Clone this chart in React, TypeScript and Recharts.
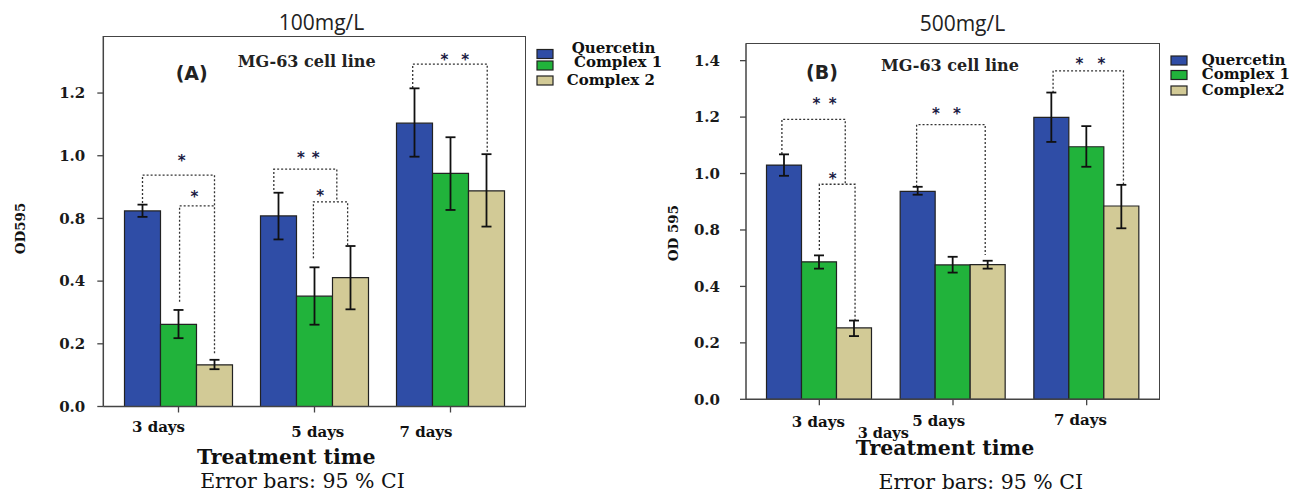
import React from 'react'
import { BarChart, Bar, XAxis, YAxis, ErrorBar, Rectangle } from 'recharts'

const days = ['3 days', '5 days', '7 days']
const legendA = ['Quercetin', 'Complex 1', 'Complex 2']
const legendB = ['Quercetin', 'Complex 1', 'Complex2']
const colors = ['#2f4da6', '#21b33b', '#d2ca96']

// panel A, 100mg/L: means and 95% CI limits.
// the printed y labels skip 0.6 (evenly spaced ticks read 0.0 0.2 0.4 0.8 1.0 1.2),
// so values are read against the tick spacing
const aQuercetin = [0.624, 0.608, 0.904]
const aQuercetinLo = [0.605, 0.533, 0.797]
const aQuercetinHi = [0.644, 0.682, 1.015]
const aComplex1 = [0.262, 0.352, 0.744]
const aComplex1Lo = [0.218, 0.261, 0.627]
const aComplex1Hi = [0.308, 0.444, 0.859]
const aComplex2 = [0.133, 0.411, 0.688]
const aComplex2Lo = [0.119, 0.31, 0.574]
const aComplex2Hi = [0.149, 0.512, 0.805]
const aTicks = [0, 0.2, 0.4, 0.6, 0.8, 1.0]
const aTickLabels = ['0.0', '0.2', '0.4', '0.8', '1.0', '1.2']

// panel B, 500mg/L (same label quirk)
const bQuercetin = [0.83, 0.737, 0.999]
const bQuercetinLo = [0.792, 0.725, 0.912]
const bQuercetinHi = [0.868, 0.753, 1.087]
const bComplex1 = [0.487, 0.476, 0.895]
const bComplex1Lo = [0.463, 0.449, 0.824]
const bComplex1Hi = [0.51, 0.505, 0.968]
const bComplex2 = [0.253, 0.477, 0.685]
const bComplex2Lo = [0.224, 0.463, 0.606]
const bComplex2Hi = [0.279, 0.491, 0.76]
const bTicks = [0, 0.2, 0.4, 0.6, 0.8, 1.0, 1.2]
const bTickLabels = ['0.0', '0.2', '0.4', '0.8', '1.0', '1.2', '1.4']

// significance brackets: g = day group, x1/x2/stars in bar slots (0 = Quercetin centre),
// top / end1 / end2 / starY in OD units
type Bracket = { g: number; x1: number; x2: number; top: number; end1: number; end2: number; stars: number[]; starY: number }
const aBrackets: Bracket[] = [
  { g: 0, x1: 0, x2: 2, top: 0.738, end1: 0.649, end2: 0.17, stars: [1.09], starY: 0.792 },
  { g: 0, x1: 1.03, x2: 2, top: 0.64, end1: 0.334, end2: 0.64, stars: [1.44], starY: 0.677 },
  { g: 1, x1: -0.13, x2: 1.62, top: 0.757, end1: 0.691, end2: 0.653, stars: [0.62, 1.03], starY: 0.802 },
  { g: 1, x1: 0.97, x2: 1.92, top: 0.653, end1: 0.473, end2: 0.515, stars: [1.16], starY: 0.682 },
  { g: 2, x1: -0.05, x2: 2.02, top: 1.092, end1: 1.016, end2: 0.813, stars: [0.83, 1.41], starY: 1.114 },
]
const bBrackets: Bracket[] = [
  { g: 0, x1: -0.06, x2: 1.75, top: 0.992, end1: 0.869, end2: 0.762, stars: [0.93, 1.39], starY: 1.058 },
  { g: 0, x1: 1.01, x2: 2.03, top: 0.762, end1: 0.529, end2: 0.281, stars: [1.39], starY: 0.791 },
  { g: 1, x1: -0.03, x2: 1.93, top: 0.973, end1: 0.753, end2: 0.511, stars: [0.52, 1.12], starY: 1.023 },
  { g: 2, x1: 0.05, x2: 2.06, top: 1.164, end1: 1.086, end2: 0.759, stars: [0.8, 1.43], starY: 1.2 },
]

const err = (v: number[], lo: number[], hi: number[], i: number) => [v[i] - lo[i], hi[i] - v[i]]

const dataA = days.map((day, i) => ({
  day,
  q: aQuercetin[i], qErr: err(aQuercetin, aQuercetinLo, aQuercetinHi, i),
  c1: aComplex1[i], c1Err: err(aComplex1, aComplex1Lo, aComplex1Hi, i),
  c2: aComplex2[i], c2Err: err(aComplex2, aComplex2Lo, aComplex2Hi, i),
}))
const dataB = days.map((day, i) => ({
  day,
  q: bQuercetin[i], qErr: err(bQuercetin, bQuercetinLo, bQuercetinHi, i),
  c1: bComplex1[i], c1Err: err(bComplex1, bComplex1Lo, bComplex1Hi, i),
  c2: bComplex2[i], c2Err: err(bComplex2, bComplex2Lo, bComplex2Hi, i),
}))

const SERIF = '"DejaVu Serif", serif'
const AXIS = '#444'
const BAR_STROKE = '#222'

type Geo = {
  left: number; width: number; top: number; right: number; bottom: number
  yAxisW: number; pad: number; barSize: number; yMax: number; tickMargin: number
  tickDx: number[]; tickDy: number[]
}

const geoA: Geo = {
  left: 0, width: 540, top: 36, right: 14.3, bottom: 55.5, yAxisW: 103.3, pad: 7.2,
  barSize: 36, yMax: 1.182, tickMargin: 12, tickDx: [-20, 3.3, -24.5], tickDy: [12.2, 17.2, 17.2],
}
const geoB: Geo = {
  left: 640, width: 530, top: 43.3, right: 10, bottom: 62.7, yAxisW: 106, pad: 6.5,
  barSize: 35, yMax: 1.2615, tickMargin: 20, tickDx: [-1, -14.3, -6.2], tickDy: [14.4, 13.7, 12.7],
}

// Quercetin bar also carries the group's significance brackets, placed with the bar's own scale
function quercetinShape(brackets: Bracket[]) {
  return (p: any) => {
    const { x, y, width, height, index, payload } = p
    const per = height / payload.q
    const base = y + height
    const yv = (v: number) => base - v * per
    const xs = (s: number) => x + (s + 0.5) * width
    return (
      <g>
        <Rectangle x={x} y={y} width={width} height={height} fill={colors[0]} stroke={BAR_STROKE} strokeWidth={1.2} />
        {brackets.filter(b => b.g === index).map((b, k) => (
          <g key={k}>
            <polyline
              points={`${xs(b.x1)},${yv(b.end1)} ${xs(b.x1)},${yv(b.top)} ${xs(b.x2)},${yv(b.top)} ${xs(b.x2)},${yv(b.end2)}`}
              fill="none" stroke="#333" strokeWidth={1.3} strokeDasharray="2 2"
            />
            {b.stars.map((s, j) => (
              <text key={j} x={xs(s)} y={yv(b.starY) + 8} textAnchor="middle"
                fontFamily='"DejaVu Sans", sans-serif' fontWeight="bold" fontSize={15} fill="#1c1c44">*</text>
            ))}
          </g>
        ))}
      </g>
    )
  }
}

function Panel({ data, geo, ticks, labels, brackets }: { data: any[]; geo: Geo; ticks: number[]; labels: string[]; brackets: Bracket[] }) {
  const h = 492
  const plotL = geo.left + geo.yAxisW
  const plotR = geo.left + geo.width - geo.right
  const plotB = h - geo.bottom - 30
  const xTick = (p: any) => (
    <text x={p.x + geo.tickDx[p.index]} y={p.y + geo.tickDy[p.index]} textAnchor="middle" dominantBaseline="central"
      fontFamily={SERIF} fontWeight="bold" fontSize={15} fill="#111">{p.payload.value}</text>
  )
  const yLabel = (v: number) => {
    const i = ticks.findIndex(t => Math.abs(t - v) < 1e-6)
    return i >= 0 ? labels[i] : ''
  }
  return (
    <>
      <div style={{ position: 'absolute', left: geo.left, top: 0 }}>
        <BarChart width={geo.width} height={h} data={data} barGap={0} barSize={geo.barSize}
          margin={{ top: geo.top, right: geo.right, bottom: geo.bottom, left: 0 }}>
          <XAxis dataKey="day" height={30} padding={{ left: geo.pad, right: geo.pad }} tick={xTick}
            tickSize={6} axisLine={{ stroke: AXIS, strokeWidth: 1.5 }} tickLine={{ stroke: AXIS, strokeWidth: 1.3 }} />
          <YAxis type="number" domain={[0, geo.yMax]} ticks={ticks} width={geo.yAxisW} tickSize={6}
            tickMargin={geo.tickMargin} tickFormatter={yLabel} interval={0}
            tick={{ fontFamily: SERIF, fontWeight: 'bold', fontSize: 15, fill: '#1a1a1a' }}
            axisLine={{ stroke: AXIS, strokeWidth: 1.5 }} tickLine={{ stroke: AXIS, strokeWidth: 1.3 }} />
          <Bar dataKey="q" fill={colors[0]} shape={quercetinShape(brackets)} isAnimationActive={false}>
            <ErrorBar dataKey="qErr" width={5} stroke="#111" strokeWidth={1.8} direction="y" />
          </Bar>
          <Bar dataKey="c1" fill={colors[1]} stroke={BAR_STROKE} strokeWidth={1.2} isAnimationActive={false}>
            <ErrorBar dataKey="c1Err" width={5} stroke="#111" strokeWidth={1.8} direction="y" />
          </Bar>
          <Bar dataKey="c2" fill={colors[2]} stroke={BAR_STROKE} strokeWidth={1.2} isAnimationActive={false}>
            <ErrorBar dataKey="c2Err" width={5} stroke="#111" strokeWidth={1.8} direction="y" />
          </Bar>
        </BarChart>
      </div>
      {/* top and right edges of the plot frame */}
      <div style={{
        position: 'absolute', left: plotL, top: geo.top, width: plotR - plotL, height: plotB - geo.top,
        borderTop: `1.5px solid ${AXIS}`, borderRight: `1.5px solid ${AXIS}`, boxSizing: 'border-box', pointerEvents: 'none',
      }} />
    </>
  )
}

function Legend({ names, x, tops, textX, baselines }: { names: string[]; x: number; tops: number[]; textX: number[]; baselines: number[] }) {
  return (
    <g>
      {names.map((n, i) => (
        <g key={n}>
          <rect x={x} y={tops[i]} width={16} height={9} fill={colors[i]} stroke="#222" strokeWidth={1.2} />
          <text x={textX[i]} y={baselines[i]} fontFamily={SERIF} fontWeight="bold" fontSize={15} fill="#111">{n}</text>
        </g>
      ))}
    </g>
  )
}

export default function App() {
  const mid = { textAnchor: 'middle' as const, dominantBaseline: 'central' as const }
  return (
    <div style={{ position: 'absolute', left: 0, top: 0, width: 1297, height: 492, background: '#fff', overflow: 'hidden' }}>
      <Panel data={dataA} geo={geoA} ticks={aTicks} labels={aTickLabels} brackets={aBrackets} />
      <Panel data={dataB} geo={geoB} ticks={bTicks} labels={bTickLabels} brackets={bBrackets} />
      <svg width={1297} height={492} style={{ position: 'absolute', left: 0, top: 0, pointerEvents: 'none' }}>
        {/* panel A */}
        <text x={321.5} y={21.7} {...mid} fontFamily='"Open Sans", sans-serif' fontSize={21} fill="#222">100mg/L</text>
        <text x={191.7} y={73.3} {...mid} fontFamily='"DejaVu Sans", sans-serif' fontWeight="bold" fontSize={19} fill="#222">(A)</text>
        <text x={306.7} y={61.7} {...mid} fontFamily={SERIF} fontWeight="bold" fontSize={16} fill="#222">MG-63 cell line</text>
        <text x={20} y={228.5} {...mid} transform="rotate(-90 20 228.5)" fontFamily={SERIF} fontWeight="bold" fontSize={13.5} fill="#111">OD595</text>
        <text x={286.2} y={456.7} {...mid} fontFamily={SERIF} fontWeight="bold" fontSize={20.5} fill="#111">Treatment time</text>
        <text x={302.5} y={480.5} {...mid} fontFamily={SERIF} fontSize={20.5} fill="#111">Error bars: 95 % CI</text>
        <Legend names={legendA} x={537} tops={[49.5, 61, 76]} textX={[571.7, 574, 566.7]} baselines={[53.3, 67.3, 85]} />
        {/* panel B */}
        <text x={962.4} y={22.7} {...mid} fontFamily='"Open Sans", sans-serif' fontSize={21} fill="#222">500mg/L</text>
        <text x={822} y={71.7} {...mid} fontFamily='"DejaVu Sans", sans-serif' fontWeight="bold" fontSize={19} fill="#222">(B)</text>
        <text x={950} y={65} {...mid} fontFamily={SERIF} fontWeight="bold" fontSize={16} fill="#222">MG-63 cell line</text>
        <text x={673} y={233} {...mid} transform="rotate(-90 673 233)" fontFamily={SERIF} fontWeight="bold" fontSize={13.5} fill="#111">OD 595</text>
        <text x={883.3} y={432} {...mid} fontFamily={SERIF} fontWeight="bold" fontSize={14.5} fill="#111">3 days</text>
        <text x={945} y={447.5} {...mid} fontFamily={SERIF} fontWeight="bold" fontSize={20.5} fill="#111">Treatment time</text>
        <text x={980.8} y={482} {...mid} fontFamily={SERIF} fontSize={20.5} fill="#111">Error bars: 95 % CI</text>
        <Legend names={legendB} x={1171} tops={[56, 70.5, 86]} textX={[1201.7, 1201.7, 1201.7]} baselines={[65, 79.3, 95]} />
      </svg>
    </div>
  )
}
